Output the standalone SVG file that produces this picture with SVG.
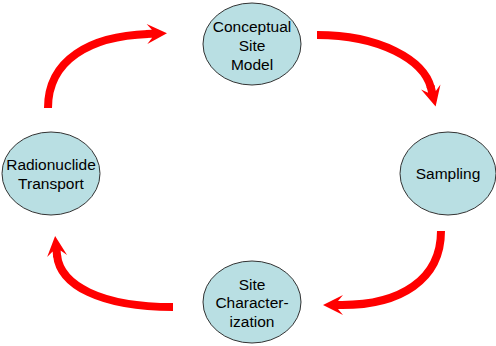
<svg xmlns="http://www.w3.org/2000/svg" width="496" height="346" viewBox="0 0 496 346">
<style>
.node ellipse{fill:#B9DFE3;stroke:#333;stroke-width:1}
.node text{font-family:"Liberation Sans",Arial,sans-serif;font-size:15.5px;fill:#000;text-anchor:middle}
.conn path{fill:none;stroke:#FF0000;stroke-width:8;marker-end:url(#ah)}
</style>
<defs>
<marker id="ah" markerUnits="userSpaceOnUse" viewBox="-2 -12 24 24" markerWidth="24" markerHeight="24" refX="1" refY="0" orient="auto">
<path d="M-1,-4 L5,-4 L0,-10 L20,0 L0,10 L5,4 L-1,4 Z" fill="#FF0000"/>
</marker>
</defs>
<rect width="496" height="346" fill="#fff"/>
<g id="connectors" class="conn">
<path d="M48,108 C48,60 90,36 148,34"/>
<path d="M317,35 C380,35 424,60 431,88"/>
<path d="M441,231 C441,280 400,305 342,305"/>
<path d="M173,307 C100,307 60,285 57,255"/>
</g>
<g id="conceptual" class="node">
<ellipse cx="252" cy="44" rx="49" ry="41"/>
<text x="252" y="32">Conceptual</text>
<text x="252" y="51">Site</text>
<text x="252" y="70">Model</text>
</g>
<g id="sampling" class="node">
<ellipse cx="448" cy="173.5" rx="48" ry="41.5"/>
<text x="448" y="179">Sampling</text>
</g>
<g id="characterization" class="node">
<ellipse cx="252" cy="302" rx="49" ry="41"/>
<text x="252" y="290">Site</text>
<text x="252" y="308">Character-</text>
<text x="252" y="327">ization</text>
</g>
<g id="radionuclide" class="node">
<ellipse cx="51" cy="173.5" rx="49" ry="41.5"/>
<text x="51" y="170">Radionuclide</text>
<text x="51" y="189">Transport</text>
</g>
</svg>
